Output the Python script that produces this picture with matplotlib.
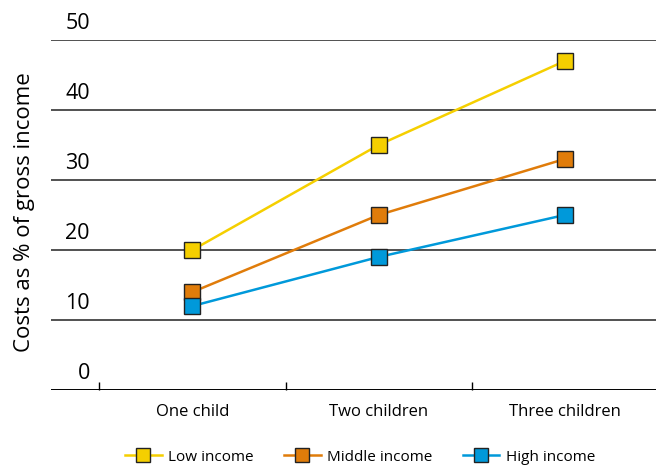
import numpy as np
import matplotlib.pyplot as plt
from matplotlib.transforms import blended_transform_factory

plt.rcParams['font.family'] = ['Open Sans', 'DejaVu Sans']

# data
categories = ['One child', 'Two children', 'Three children']
low_income = [20, 35, 47]
middle_income = [14, 25, 33]
high_income = [12, 19, 25]
y_ticks = [0, 10, 20, 30, 40, 50]

colors = {'Low income': '#F5CF00', 'Middle income': '#E07C0A', 'High income': '#0099DA'}

fig = plt.figure(figsize=(6.56, 4.65), dpi=100)
ax = fig.add_axes([51 / 656, 75 / 465, 605 / 656, 350 / 465])

x = np.arange(len(categories))
series = [('Low income', low_income), ('Middle income', middle_income), ('High income', high_income)]
for name, vals in series:
    ax.plot(x, vals, color=colors[name], lw=1.8, marker='s', markersize=11.5,
            markerfacecolor=colors[name], markeredgecolor='#222222', markeredgewidth=1.0,
            label=name, zorder=3)

ax.set_xlim(-0.76, 2.49)
ax.set_ylim(0, 50)

# horizontal grid lines, labels sit on top of them
for t in y_ticks:
    ax.axhline(t, color='black' if t == 0 else '#333333', lw=1.4 if t == 0 else 1.2, zorder=1)
tr = blended_transform_factory(fig.transFigure, ax.transData)
for t in y_ticks:
    ax.text(90 / 656, t + 0.8, str(t), transform=tr, ha='right', va='bottom', fontsize=15.5)

for s in ax.spines.values():
    s.set_visible(False)
ax.set_yticks([])
ax.set_xticks([-0.5, 0.5, 1.5])
ax.set_xticklabels([])
ax.tick_params(axis='x', direction='in', length=6, width=1, color='black')
for xi, c in zip(x, categories):
    ax.text(xi, -2.0, c, ha='center', va='top', fontsize=12)

fig.text(25 / 656, 1 - 212 / 465, 'Costs as % of gross income', rotation=90,
         ha='center', va='center', fontsize=16)

fig.legend(loc='center', bbox_to_anchor=(360 / 656, 1 - 457 / 465), ncol=3, frameon=False,
           fontsize=11, handlelength=2.4, columnspacing=2.0, handletextpad=0.4, markerscale=0.85)

fig.savefig('out.png', dpi=100)
